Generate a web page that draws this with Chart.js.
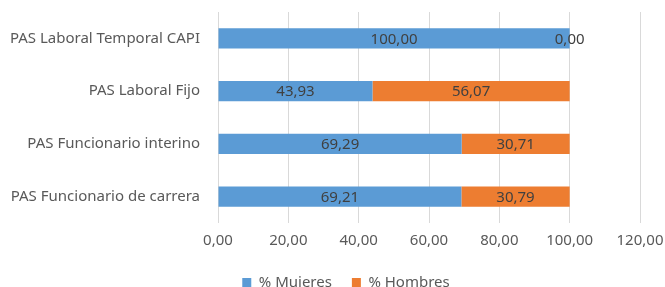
<!DOCTYPE html>
<html>
<head>
<meta charset="utf-8">
<script src="https://cdn.jsdelivr.net/npm/chart.js@4/dist/chart.umd.min.js"></script>
<style>
  html, body { margin: 0; padding: 0; background: #fff; }
  #wrap { width: 665px; height: 287px; position: relative; }
</style>
</head>
<body>
<div id="wrap"><canvas id="chart"></canvas></div>
<script>
// Categories (top to bottom) and series values
const categories = ["PAS Laboral Temporal CAPI", "PAS Laboral Fijo", "PAS Funcionario interino", "PAS Funcionario de carrera"];
const mujeres = [100.00, 43.93, 69.29, 69.21];
const hombres = [0.00, 56.07, 30.71, 30.79];
const seriesNames = ["% Mujeres", "% Hombres"];
const xTicks = [0, 20, 40, 60, 80, 100, 120];

const FONT = "'Noto Sans', sans-serif";

function fmt(v) {
  return v.toFixed(2).replace(".", ",");
}

// draw value labels in the middle of each bar segment
const barLabels = {
  id: "barLabels",
  afterDatasetsDraw(chart) {
    const ctx = chart.ctx;
    ctx.save();
    ctx.font = "15px " + FONT;
    ctx.fillStyle = "#404040";
    ctx.textAlign = "center";
    ctx.textBaseline = "middle";
    chart.data.datasets.forEach((ds, i) => {
      chart.getDatasetMeta(i).data.forEach((bar, j) => {
        const x = (bar.x + bar.base) / 2;
        ctx.fillText(fmt(ds.data[j]), x, bar.y + 1);
      });
    });
    ctx.restore();
  }
};

// keep the legend short so the plot gets the height, and nudge it right a bit
const legendFit = {
  id: "legendFit",
  beforeLayout(chart) {
    const lg = chart.legend;
    if (lg && !lg._fitPatched) {
      const orig = lg.fit;
      lg.fit = function () { orig.call(this); this.height = 32; };
      lg._fitPatched = true;
    }
  },
  afterLayout(chart) {
    const lg = chart.legend;
    if (lg) { lg.left += 26; lg.right += 26; }
  }
};

new Chart(document.getElementById("chart"), {
  type: "bar",
  data: {
    labels: categories,
    datasets: [
      { label: seriesNames[0], data: mujeres, backgroundColor: "#5B9BD5" },
      { label: seriesNames[1], data: hombres, backgroundColor: "#ED7D31" }
    ]
  },
  options: {
    indexAxis: "y",
    responsive: true,
    maintainAspectRatio: false,
    animation: false,
    layout: { padding: { top: 12, right: 25, left: 0, bottom: 0 } },
    datasets: { bar: { categoryPercentage: 1, barPercentage: 0.38 } },
    scales: {
      x: {
        stacked: true,
        min: 0,
        max: 120,
        afterBuildTicks(scale) { scale.ticks = xTicks.map(v => ({ value: v })); },
        grid: { color: "#d9d9d9", drawTicks: false },
        border: { display: false },
        ticks: {
          padding: 9,
          color: "#595959",
          font: { family: FONT, size: 15 },
          callback: v => fmt(v)
        },
        afterFit(scale) {
          scale.height = 32;
          scale.paddingLeft = 0;
          scale.paddingRight = 0;
        }
      },
      y: {
        stacked: true,
        grid: { display: false, drawTicks: false },
        border: { display: false },
        ticks: {
          padding: 18,
          color: "#595959",
          font: { family: FONT, size: 15 }
        },
        afterFit(scale) {
          scale.width = 218;
          scale.paddingTop = 0;
          scale.paddingBottom = 0;
        }
      }
    },
    plugins: {
      legend: {
        position: "bottom",
        labels: {
          boxWidth: 9,
          boxHeight: 9,
          padding: 20,
          color: "#595959",
          font: { family: FONT, size: 15 }
        }
      },
      tooltip: { enabled: false }
    }
  },
  plugins: [barLabels, legendFit]
});
</script>
</body>
</html>
